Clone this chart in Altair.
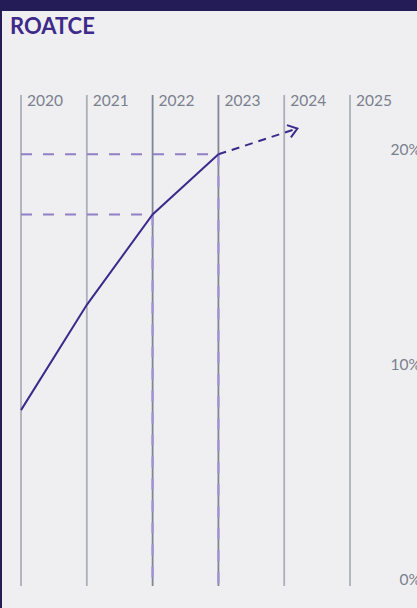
import altair as alt
import pandas as pd

# ---- data ----
years = [2020, 2021, 2022, 2023]
roatce = [7.9, 12.8, 17.0, 19.8]
forecast_x = [2023, 2024.2]
forecast_y = [19.8, 21.0]
axis_years = [2020, 2021, 2022, 2023, 2024, 2025]
pct_ticks = [0, 10, 20]
pct_labels = ["0%", "10%", "20%"]
guide_years = [2022, 2023]
guide_vals = [17.0, 19.8]

PURPLE = "#3b2a8c"
LIGHT_PURPLE = "#9080c6"
GRAY_TEXT = "#7a808e"

W, H = 415, 597
xs = alt.Scale(domain=[2019.711, 2026.018], zero=False, nice=False)
ys = alt.Scale(domain=[-1.302, 26.465], zero=False, nice=False)

line_df = pd.DataFrame({"year": years, "v": roatce})
fc_df = pd.DataFrame({"year": forecast_x, "v": forecast_y})
tip_df = pd.DataFrame({"year": [forecast_x[-1]], "v": [forecast_y[-1]]})
grid_df = pd.DataFrame({"year": axis_years, "label": [str(y) for y in axis_years]})
pct_df = pd.DataFrame({"v": pct_ticks, "label": pct_labels})
guide_df = pd.DataFrame({"year": guide_years, "v": guide_vals, "x0": [years[0]] * len(guide_years)})

X = lambda f: alt.X(f, type="quantitative", scale=xs, axis=None)
Y = lambda f: alt.Y(f, type="quantitative", scale=ys, axis=None)

grid = alt.Chart(grid_df).mark_rule(strokeWidth=1.8).encode(
    x=X("year"), y=alt.value(84), y2=alt.value(575),
    color=alt.condition("datum.year == 2022 || datum.year == 2023",
                        alt.value("#7f8696"), alt.value("#aab0b8")),
)

guide_h = alt.Chart(guide_df).mark_rule(strokeWidth=2, strokeDash=[11, 11], color=LIGHT_PURPLE).encode(
    x=X("x0"), x2="year", y=Y("v")
)
guide_v = alt.Chart(guide_df).mark_rule(strokeWidth=2.6, strokeDash=[11, 11], color="#a596d6", opacity=0.9).encode(
    x=X("year"), y=Y("v"), y2=alt.value(575)
)

main = alt.Chart(line_df).mark_line(color=PURPLE, strokeWidth=2).encode(x=X("year"), y=Y("v"))
fc = alt.Chart(fc_df).mark_line(color=PURPLE, strokeWidth=2, strokeDash=[8, 6]).encode(x=X("year"), y=Y("v"))
tip = alt.Chart(tip_df).mark_point(
    shape="M-1,-0.73L0,0L-1,0.73", size=316, filled=False, stroke=PURPLE,
    strokeWidth=2, angle=342, opacity=1
).encode(x=X("year"), y=Y("v"))

year_lbl = alt.Chart(grid_df).mark_text(
    align="left", baseline="middle", dx=6, font="Lato", fontSize=15.5, color=GRAY_TEXT
).encode(x=X("year"), y=alt.value(90), text="label")

pct_lbl = alt.Chart(pct_df).mark_text(
    align="right", baseline="middle", font="Lato", fontSize=15.5, color=GRAY_TEXT
).encode(x=alt.value(419), y=Y("v"), text="label")

title = alt.Chart(pd.DataFrame({"t": ["ROATCE"]})).mark_text(
    align="left", baseline="middle", font="Lato", fontSize=22, fontWeight="bold", color="#3d2a8a"
).encode(x=alt.value(8), y=alt.value(16), text="t")

chart = alt.layer(grid, guide_h, guide_v, main, fc, tip, year_lbl, pct_lbl, title).properties(
    width=W, height=H,
    autosize=alt.AutoSizeParams(type="none"),
    padding={"left": 2, "top": 11, "right": 0, "bottom": 0},
    background="#241c56",
).configure_view(fill="#efeff1", stroke=None)

chart.save("out.html", embed_options={"renderer": "svg", "actions": False})
